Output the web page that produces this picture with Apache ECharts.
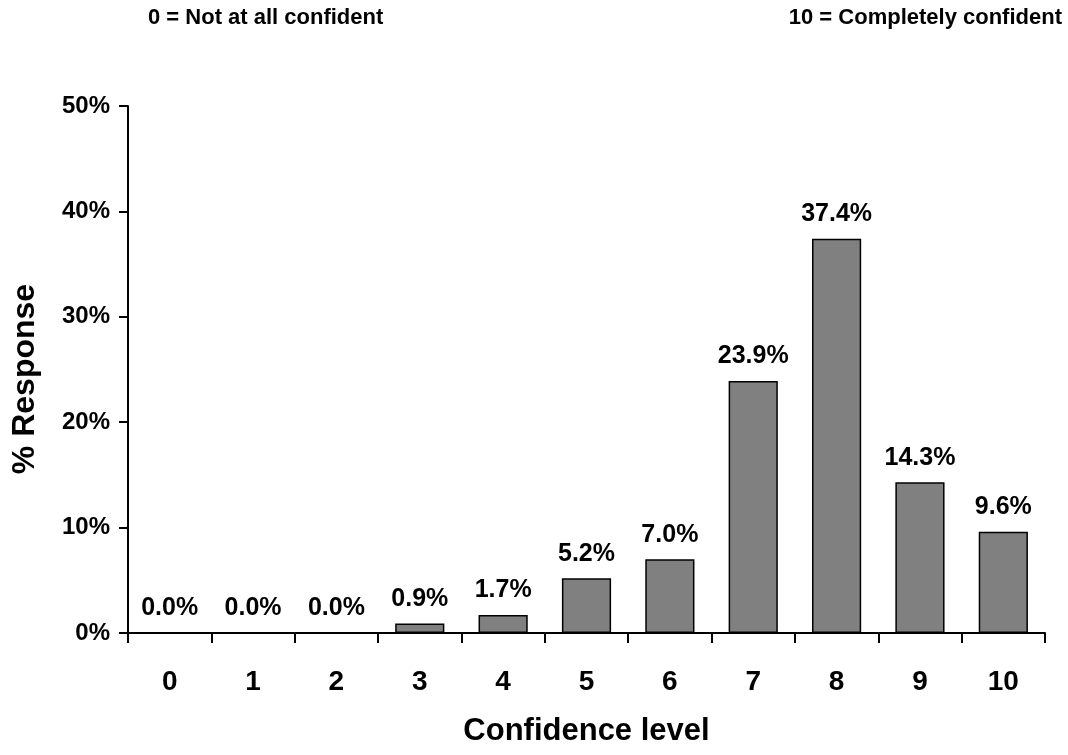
<!DOCTYPE html>
<html><head><meta charset="utf-8">
<script src="https://cdn.jsdelivr.net/npm/echarts@6/dist/echarts.min.js"></script>
<style>html,body{margin:0;padding:0;background:#fff}#c{width:1068px;height:755px}</style>
</head><body><div id="c"></div>
<script>
var categories = ['0','1','2','3','4','5','6','7','8','9','10'];
var values = [0.0, 0.0, 0.0, 0.9, 1.7, 5.2, 7.0, 23.9, 37.4, 14.3, 9.6];
var yTicks = [0, 10, 20, 30, 40, 50];
var F = '"Liberation Sans", Arial, sans-serif';
var chart = echarts.init(document.getElementById('c'));
chart.setOption({
  animation: false,
  backgroundColor: '#fff',
  graphic: [
    {type:'text', x: 148, y: 18, style:{text:'0 = Not at all confident', font:'bold 22px ' + F, fill:'#000', verticalAlign:'middle'}},
    {type:'text', x: 1062, y: 18, style:{text:'10 = Completely confident', font:'bold 22px ' + F, fill:'#000', align:'right', verticalAlign:'middle'}},
    {type:'text', x: 25, y: 379, rotation: Math.PI/2, style:{text:'% Response', font:'bold 32px ' + F, fill:'#000', align:'center', verticalAlign:'middle'}}
  ],
  grid: {left: 128, right: 23, top: 106, bottom: 122, containLabel: false},
  xAxis: {
    type: 'category', data: categories,
    name: 'Confidence level', nameLocation: 'middle', nameGap: 83,
    nameTextStyle: {fontFamily: F, fontWeight: 'bold', fontSize: 31, color: '#000'},
    axisLine: {lineStyle: {color: '#000', width: 2}},
    axisTick: {show: true, length: 10, lineStyle: {color: '#000', width: 2}},
    axisLabel: {fontFamily: F, fontWeight: 'bold', fontSize: 28, color: '#000', margin: 35}
  },
  yAxis: {
    type: 'value', min: 0, max: 50, interval: 10,
    axisLine: {show: true, lineStyle: {color: '#000', width: 2}},
    axisTick: {show: true, length: 9, lineStyle: {color: '#000', width: 2}},
    splitLine: {show: false},
    axisLabel: {fontFamily: F, fontWeight: 'bold', fontSize: 24, color: '#000', margin: 18,
      formatter: function(v){ return yTicks.indexOf(v) >= 0 ? v + '%' : ''; }}
  },
  series: [{
    type: 'bar', data: values, barWidth: '59%',
    itemStyle: {color: '#808080', borderColor: '#000', borderWidth: 1.5},
    label: {show: true, position: 'top', distance: 12, fontFamily: F, fontWeight: 'bold', fontSize: 25, color: '#000',
      formatter: function(p){ return p.value.toFixed(1) + '%'; }}
  }]
});
</script></body></html>
